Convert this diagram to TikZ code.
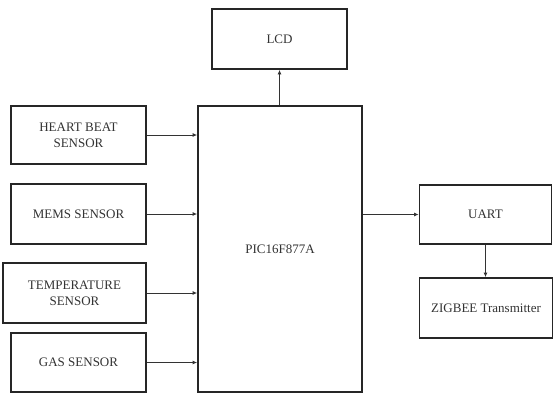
\documentclass[tikz,border=0pt]{standalone}
\usepackage{fontspec}
\setmainfont{Liberation Serif}
\usetikzlibrary{arrows.meta}
\begin{document}
\begin{tikzpicture}[x=1pt,y=-1pt,
  blk/.style={draw=black!85, line width=1.8pt, fill=white, inner sep=0pt, align=center,
    text=black!80, font=\fontsize{13}{16}\selectfont},
  conn/.style={draw=black!80, line width=0.8pt, -{Latex[length=4.5pt,width=4pt]}}]
\useasboundingbox (0,0) rectangle (553,394);
\fill[white] (0,0) rectangle (553,394);
\node[blk, minimum width=135pt, minimum height=60pt] (lcd) at (279.5,39) {LCD};
\node[blk, minimum width=164pt, minimum height=286pt] (pic) at (280,249) {PIC16F877A};
\node[blk, minimum width=135pt, minimum height=58pt] (hb) at (78.5,135) {HEART BEAT\\SENSOR};
\node[blk, minimum width=135pt, minimum height=60pt] (mems) at (78.5,214) {MEMS SENSOR};
\node[blk, minimum width=143pt, minimum height=60pt] (temp) at (74.5,293) {TEMPERATURE\\SENSOR};
\node[blk, minimum width=135pt, minimum height=59pt] (gas) at (78.5,362.5) {GAS SENSOR};
\node[blk, minimum width=132pt, minimum height=59pt] (uart) at (485.5,214.5) {UART};
\node[blk, minimum width=133pt, minimum height=60pt] (zig) at (486,308) {ZIGBEE Transmitter};
\draw[conn] (pic.north -| lcd.south) -- (lcd.south);
\draw[conn] (hb.east) -- (hb.east -| pic.west);
\draw[conn] (mems.east) -- (mems.east -| pic.west);
\draw[conn] (temp.east) -- (temp.east -| pic.west);
\draw[conn] (gas.east) -- (gas.east -| pic.west);
\draw[conn] (uart.west -| pic.east) -- (uart.west);
\draw[conn] (uart.south) -- (uart.south |- zig.north);
\end{tikzpicture}
\end{document}
